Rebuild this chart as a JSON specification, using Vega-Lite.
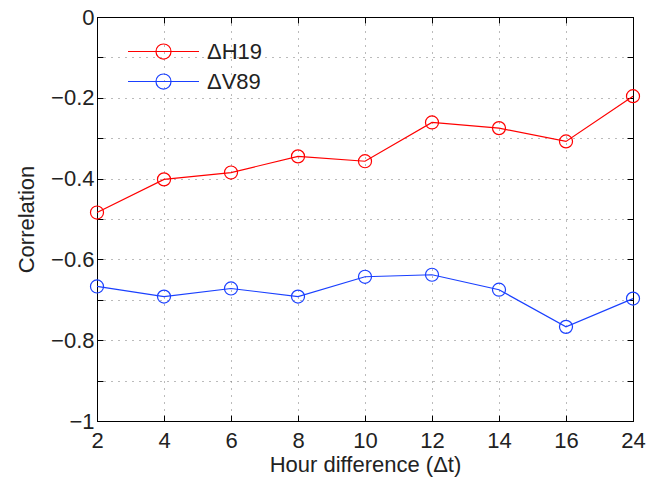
{
  "$schema": "https://vega.github.io/schema/vega-lite/v6.json",
  "width": 536,
  "height": 404,
  "autosize": {"type": "none"},
  "padding": {"left": 97, "top": 17, "right": 14, "bottom": 62},
  "background": "white",
  "config": {
    "view": {"stroke": "#000", "strokeWidth": 1},
    "font": "Liberation Sans",
    "axis": {
      "labelFont": "Liberation Sans",
      "titleFont": "Liberation Sans",
      "labelFontSize": 22,
      "titleFontSize": 22,
      "titleFontWeight": "normal",
      "labelColor": "#222",
      "titleColor": "#222",
      "domainColor": "#000",
      "tickColor": "#000",
      "gridColor": "#777",
      "gridDash": [1, 6],
      "gridWidth": 1
    }
  },
  "data": {
    "values": [
      {"hour": 2, "series": "ΔH19", "corr": -0.484},
      {"hour": 4, "series": "ΔH19", "corr": -0.402},
      {"hour": 6, "series": "ΔH19", "corr": -0.385},
      {"hour": 8, "series": "ΔH19", "corr": -0.345},
      {"hour": 10, "series": "ΔH19", "corr": -0.357},
      {"hour": 12, "series": "ΔH19", "corr": -0.261},
      {"hour": 14, "series": "ΔH19", "corr": -0.275},
      {"hour": 16, "series": "ΔH19", "corr": -0.308},
      {"hour": 24, "series": "ΔH19", "corr": -0.196},
      {"hour": 2, "series": "ΔV89", "corr": -0.667},
      {"hour": 4, "series": "ΔV89", "corr": -0.692},
      {"hour": 6, "series": "ΔV89", "corr": -0.672},
      {"hour": 8, "series": "ΔV89", "corr": -0.692},
      {"hour": 10, "series": "ΔV89", "corr": -0.643},
      {"hour": 12, "series": "ΔV89", "corr": -0.638},
      {"hour": 14, "series": "ΔV89", "corr": -0.675},
      {"hour": 16, "series": "ΔV89", "corr": -0.767},
      {"hour": 24, "series": "ΔV89", "corr": -0.697}
    ]
  },
  "resolve": {"axis": {"x": "independent", "y": "independent"}},
  "layer": [
    {
      "mark": {"type": "line", "strokeWidth": 1.2, "point": {"filled": false, "size": 170, "strokeWidth": 1.2}},
      "encoding": {
        "x": {
          "field": "hour", "type": "ordinal",
          "scale": {"type": "point", "padding": 0, "domain": [2, 4, 6, 8, 10, 12, 14, 16, 24]},
          "axis": {
            "orient": "bottom", "title": "Hour difference (Δt)", "labelAngle": 0,
            "grid": true, "ticks": true, "tickSize": -6, "labelPadding": 15, "titlePadding": 3,
            "domain": true
          }
        },
        "y": {
          "field": "corr", "type": "quantitative",
          "scale": {"domain": [-1, 0], "nice": false},
          "axis": {
            "orient": "left", "title": "Correlation",
            "values": [-1, -0.9, -0.8, -0.7, -0.6, -0.5, -0.4, -0.3, -0.2, -0.1, 0],
            "labelExpr": "abs(round(datum.value*10)) % 2 == 0 ? (datum.value < 0 ? '\u2212' + format(abs(datum.value), '~g') : '0') : ''",
            "grid": true, "ticks": true, "tickSize": -6, "labelPadding": 9, "titlePadding": 12,
            "domain": true
          }
        },
        "color": {
          "field": "series", "type": "nominal",
          "scale": {"domain": ["ΔH19", "ΔV89"], "range": ["#ff0000", "#1a40ff"]},
          "legend": {
            "title": null,
            "orient": "none",
            "legendX": 48,
            "legendY": 16,
            "padding": 0,
            "symbolType": "M-2.03,0H2.03M0.43,0A0.43,0.43,0,1,1,-0.43,0A0.43,0.43,0,1,1,0.43,0",
            "symbolSize": 1225,
            "symbolStrokeWidth": 1.2,
            "symbolFillColor": "transparent",
            "rowPadding": 0,
            "labelOffset": 25,
            "labelFont": "Liberation Sans",
            "labelFontSize": 22,
            "labelColor": "#222"
          }
        }
      }
    },
    {
      "mark": {"type": "point", "opacity": 0},
      "encoding": {
        "x": {
          "field": "hour", "type": "ordinal",
          "axis": {"orient": "top", "title": null, "labels": false, "grid": false, "ticks": true, "tickSize": -6, "domain": true}
        },
        "y": {
          "field": "corr", "type": "quantitative",
          "axis": {
            "orient": "right", "title": null, "labels": false, "grid": false, "ticks": true, "tickSize": -6, "domain": true,
            "values": [-1, -0.9, -0.8, -0.7, -0.6, -0.5, -0.4, -0.3, -0.2, -0.1, 0]
          }
        }
      }
    }
  ]
}
